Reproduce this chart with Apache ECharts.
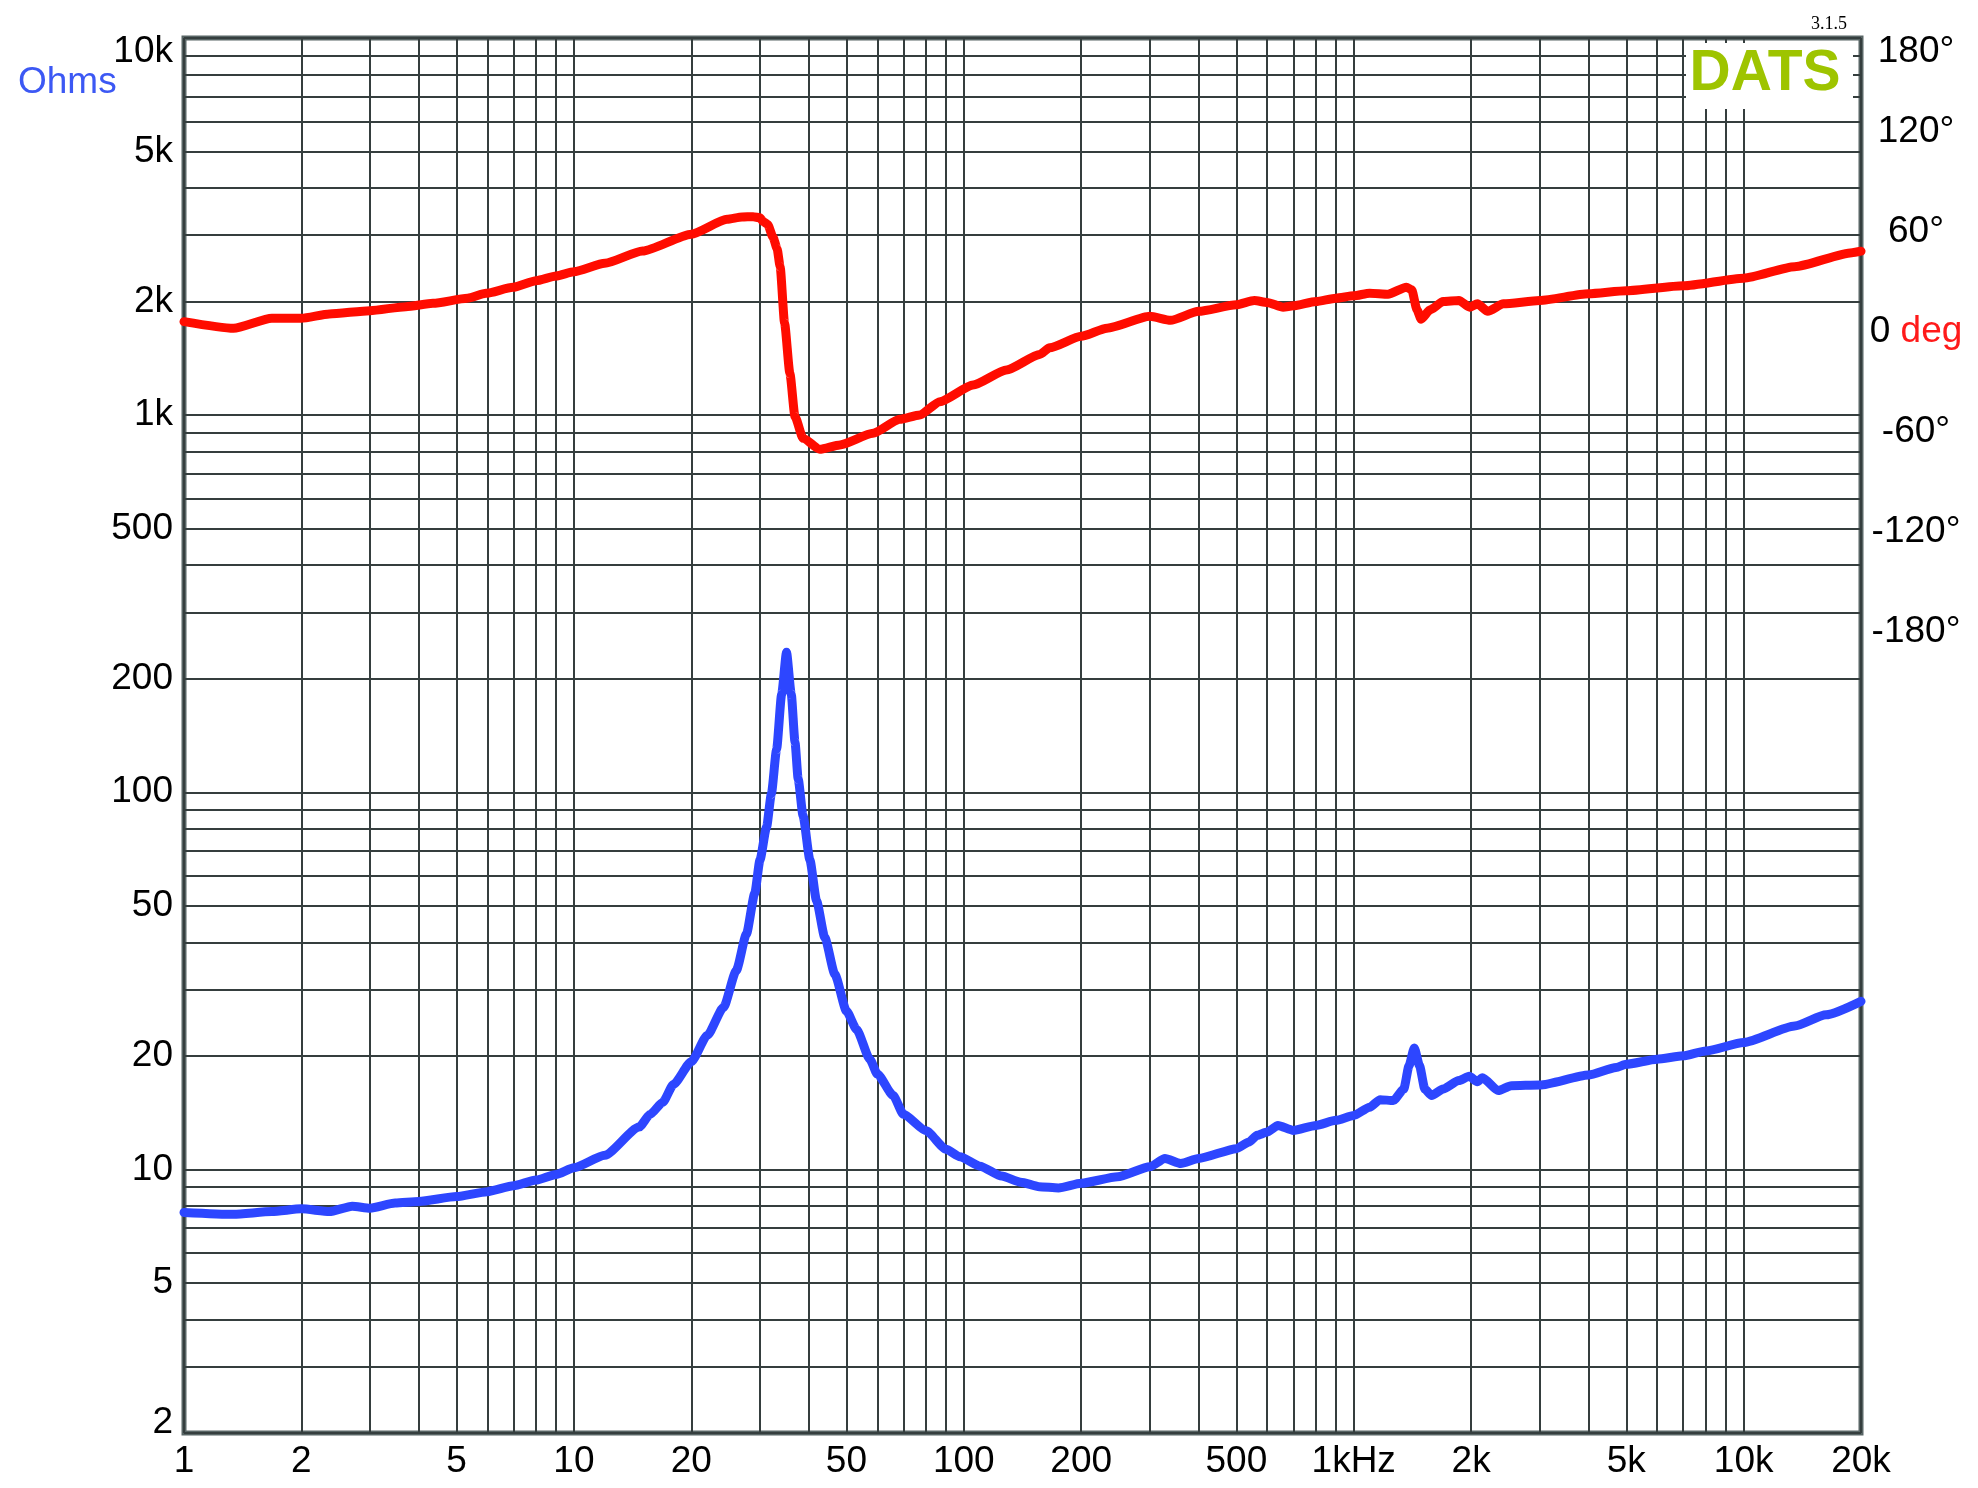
<!DOCTYPE html>
<html>
<head>
<meta charset="utf-8">
<script src="https://cdn.jsdelivr.net/npm/echarts@6/dist/echarts.min.js"></script>
<style>
html,body{margin:0;padding:0;background:#ffffff;}
#chart{width:1978px;height:1488px;}
</style>
</head>
<body>
<div id="chart"></div>
<script>
// ---- data ----
const impFreq = [1,1.34,1.68,2,2.36,2.7,3,3.48,4,5,6,7,8,9,10,12,14.7,15.7,16.9,18,20,22,24.2,26.1,27.7,29.1,30,31.2,32.1,33.1,34.1,35.1,36.1,36.9,37.6,38.7,40.3,41.9,44,46.7,50,53.1,57.4,60,65.9,70,80,90,97.7,110,125,140,156,175,200,248,300,328,360,400,500,539,565,600,639,700,800,900,1000,1099,1169,1263,1344,1386,1430,1475,1522,1584,1695,1861,1978,2074,2139,2347,2536,3000,4000,4711,5000,6000,7000,8000,10000,13520,16270,20000];
const impOhms = [7.69,7.60,7.73,7.86,7.73,7.99,7.89,8.14,8.22,8.47,8.73,9.05,9.37,9.70,10.1,10.9,12.95,14.0,15.07,16.8,19.3,22.7,26.9,33.7,42.1,54.0,66.1,80.9,99.1,129.9,181.9,235,181.9,135.8,108.4,86.6,66.1,51.6,41.2,32.9,26.3,23.5,19.6,17.9,15.7,14.0,12.66,11.31,10.81,10.2,9.6,9.25,9.0,8.93,9.19,9.56,10.16,10.69,10.37,10.69,11.35,11.82,12.31,12.56,13.08,12.69,13.08,13.49,13.9,14.62,15.31,15.22,16.33,18.82,21.0,18.82,16.33,15.7,16.33,17.2,17.65,17.08,17.5,16.18,16.67,16.74,17.79,18.63,19.0,19.6,20.0,20.6,21.7,24.0,25.7,27.9];

const phaseFreq = [1,1.34,1.68,2,2.36,3,3.71,4.35,5.33,5.95,6.98,8,9,10,12,15,20,24.7,27,28.8,30,30.6,31.4,32.4,33.2,33.8,34.7,35.8,36.9,38.7,42.7,48.1,58.5,68.5,77.1,86.8,105.6,128.6,156.6,166,200,233,300,339,400,500,556,600,659,700,800,900,1000,1099,1225,1365,1409,1453,1489,1570,1695,1862,1982,2076,2207,2421,3000,4000,5000,7000,10000,13520,18970,20000];
const phaseDeg = [6.2,2.2,8.2,8.2,10.8,12.8,15.2,17.2,20.2,23.2,26.8,30.8,33.6,36.2,41.2,48.6,58.7,67.6,69.0,69.2,68.5,66.2,64.5,57,50,39.2,5.2,-24.8,-50.8,-63.8,-70.4,-67.8,-60.8,-52.4,-49.8,-41.8,-31.8,-22.8,-13.5,-9.5,-2.6,2.3,9.4,7.0,12.4,16.3,18.9,17.7,14.9,15.7,18.3,20.3,21.7,23.3,22.7,26.9,25.3,13.3,7.7,13.3,18.3,18.9,14.9,16.9,12.4,16.9,18.9,22.9,24.7,27.7,32.3,39.2,47.6,48.5];

// ---- tick labels ----
const freqTicks = [1,2,5,10,20,50,100,200,500,1000,2000,5000,10000,20000];
const freqTickLabels = ['1','2','5','10','20','50','100','200','500','1kHz','2k','5k','10k','20k'];
const ohmTicks = [2,5,10,20,50,100,200,500,1000,2000,5000,10000];
const ohmTickLabels = ['2','5','10','20','50','100','200','500','1k','2k','5k','10k'];
const phaseTicks = [-180,-120,-60,0,60,120,180];
const phaseTickLabels = ['-180°','-120°','-60°','0 deg','60°','120°','180°'];

// ---- axis ranges ----
const F_MIN = 1, F_MAX = 20000;
const Z_MIN = 2, Z_MAX = 10000;
const PH_MIN = -660.6, PH_MAX = 176.4;

// log grid positions (1..9 per decade)
function logGrid(lo, hi) {
  const out = [];
  for (let d = 1; d <= hi; d *= 10) {
    for (let k = 1; k <= 9; k++) {
      const v = k * d;
      if (v >= lo - 1e-9 && v <= hi + 1e-9) out.push(v);
    }
  }
  return out;
}
const freqGrid = logGrid(F_MIN, F_MAX);
const ohmGrid = logGrid(Z_MIN, Z_MAX);

function nearestLabel(v, ticks, labels) {
  let best = 0, bd = Infinity;
  for (let i = 0; i < ticks.length; i++) {
    const d = Math.abs(Math.log(Math.abs(ticks[i]) + 1e-9) - Math.log(Math.abs(v) + 1e-9));
    if (d < bd) { bd = d; best = i; }
  }
  return labels[best];
}
function nearestLinear(v, ticks, labels) {
  let best = 0, bd = Infinity;
  for (let i = 0; i < ticks.length; i++) {
    const d = Math.abs(ticks[i] - v);
    if (d < bd) { bd = d; best = i; }
  }
  return labels[best];
}

const FONT = '"Liberation Sans", Arial, sans-serif';
const FS = 37;
const GRID_COLOR = '#353e3e';

const chart = echarts.init(document.getElementById('chart'), null, { renderer: 'canvas' });

const option = {
  animation: false,
  backgroundColor: '#ffffff',
  grid: {
    left: 184, top: 38, width: 1677, height: 1395,
    show: true, borderColor: '#586565', borderWidth: 5, backgroundColor: 'transparent'
  },
  xAxis: {
    type: 'log', logBase: 10, min: F_MIN, max: F_MAX,
    axisLine: { show: false },
    axisTick: { show: false, customValues: freqGrid },
    splitLine: { show: true, lineStyle: { color: GRID_COLOR, width: 2 } },
    axisLabel: {
      customValues: freqTicks,
      margin: 10,
      fontFamily: FONT, fontSize: FS, color: '#000',
      formatter: v => nearestLabel(v, freqTicks, freqTickLabels)
    }
  },
  yAxis: [
    {
      type: 'log', logBase: 10, min: Z_MIN, max: Z_MAX,
      axisLine: { show: false },
      axisTick: { show: false, customValues: ohmGrid },
      splitLine: { show: true, lineStyle: { color: GRID_COLOR, width: 2 } },
      axisLabel: {
        customValues: ohmTicks,
        margin: 11,
        fontFamily: FONT, fontSize: FS, color: '#000',
        formatter: v => {
          const s = nearestLabel(v, ohmTicks, ohmTickLabels);
          if (s === ohmTickLabels[ohmTickLabels.length - 1]) return '{top|' + s + '}';
          if (s === ohmTickLabels[0]) return '{bot|' + s + '}';
          return s;
        },
        rich: {
          top: { fontFamily: FONT, fontSize: FS, color: '#000', padding: [28, 0, 0, 0] },
          bot: { fontFamily: FONT, fontSize: FS, color: '#000', padding: [0, 0, 20, 0] }
        }
      }
    },
    {
      type: 'value', min: PH_MIN, max: PH_MAX, position: 'right',
      axisLine: { show: false },
      axisTick: { show: false },
      splitLine: { show: false },
      axisLabel: {
        customValues: phaseTicks.map(v => Math.min(v, PH_MAX - 8.4)),
        margin: 55, align: 'center',
        fontFamily: FONT, fontSize: FS, color: '#000',
        formatter: v => {
          const s = nearestLinear(v, phaseTicks, phaseTickLabels);
          if (s.indexOf(' deg') >= 0) {
            const parts = s.split(' ');
            return '{k|' + parts[0] + '} {r|' + parts[1] + '}';
          }
          return s;
        },
        rich: {
          k: { fontFamily: FONT, fontSize: FS, color: '#000' },
          r: { fontFamily: FONT, fontSize: FS, color: '#ff1a1a' }
        }
      }
    }
  ],
  graphic: [
    {
      type: 'text', z: 20,
      style: { x: 18, y: 83, text: 'Ohms', fontFamily: FONT, fontSize: FS, fill: '#3c58f4', verticalAlign: 'middle', align: 'left' }
    },
    {
      type: 'text', z: 20,
      style: { x: 1829, y: 24, text: '3.1.5', fontFamily: '"Liberation Serif", "DejaVu Serif", serif', fontSize: 18, fill: '#000', align: 'center', verticalAlign: 'middle' }
    },
    {
      type: 'rect', z: 20, shape: { x: 1686, y: 43, width: 167, height: 66 },
      style: { fill: '#ffffff' }
    },
    {
      type: 'text', z: 21,
      style: { x: 1765, y: 74, text: 'DATS', fontFamily: FONT, fontWeight: 'bold', fontSize: 57, fill: '#9ec400', align: 'center', verticalAlign: 'middle' }
    }
  ],
  series: [
    {
      type: 'line', name: 'Impedance', xAxisIndex: 0, yAxisIndex: 0,
      data: impFreq.map((f, i) => [f, impOhms[i]]),
      showSymbol: false, smooth: 0.2, smoothMonotone: 'x',
      lineStyle: { color: '#2d46ff', width: 9, cap: 'round', join: 'round' },
      z: 5
    },
    {
      type: 'line', name: 'Phase', xAxisIndex: 0, yAxisIndex: 1,
      data: phaseFreq.map((f, i) => [f, phaseDeg[i]]),
      showSymbol: false, smooth: 0.2, smoothMonotone: 'x',
      lineStyle: { color: '#ff0c00', width: 9, cap: 'round', join: 'round' },
      z: 6
    }
  ]
};
chart.setOption(option);
</script>
</body>
</html>
